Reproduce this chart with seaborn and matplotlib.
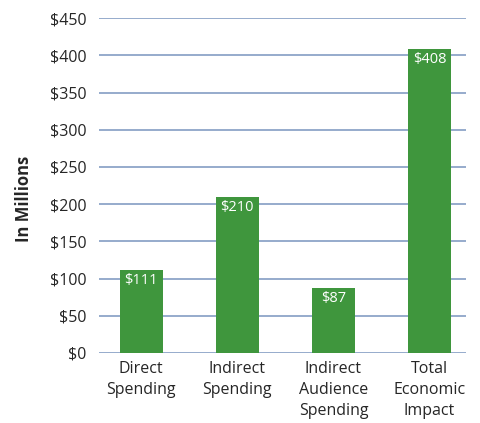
import matplotlib
matplotlib.use('Agg')
import matplotlib.pyplot as plt
import seaborn as sns
import pandas as pd

categories = ['Direct\nSpending', 'Indirect\nSpending', 'Indirect\nAudience\nSpending', 'Total\nEconomic\nImpact']
values = [111, 210, 87, 408]
yticks = [0, 50, 100, 150, 200, 250, 300, 350, 400, 450]

sns.set_style('white')
plt.rcParams['font.family'] = ['Open Sans', 'DejaVu Sans']

df = pd.DataFrame({'cat': categories, 'val': values})

fig = plt.figure(figsize=(4.8, 4.23), dpi=100)
ax = fig.add_axes([0.206, 0.1655, 0.765, 0.7915])

# grid lines drawn by hand so they sit behind the bars
for y in yticks:
    ax.axhline(y, color='#8ea5c8', lw=1.3, zorder=0)

sns.barplot(data=df, x='cat', y='val', color='#3f963d', saturation=1, width=0.45,
            linewidth=0, ax=ax, zorder=2)

for i, v in enumerate(values):
    ax.text(i, v - 4, f'${v}', ha='center', va='top', color='white', fontsize=10.5, zorder=3)

ax.set_ylim(0, 450)
ax.set_xlim(-0.44, 3.38)
ax.set_yticks(yticks)
ax.set_yticklabels([f'${t}' for t in yticks], fontsize=11.5)
ax.set_xticks(range(len(categories)))
ax.set_xticklabels(categories, fontsize=11.5, linespacing=1.4)
ax.tick_params(axis='x', pad=6, length=0)
ax.tick_params(axis='y', length=0, pad=9)
ax.set_xlabel('')
ax.set_ylabel('In Millions', fontsize=12, fontweight='bold')
ax.yaxis.set_label_coords(-0.18, 0.46)
for s in ax.spines.values():
    s.set_visible(False)

fig.savefig('out.png', dpi=100)
